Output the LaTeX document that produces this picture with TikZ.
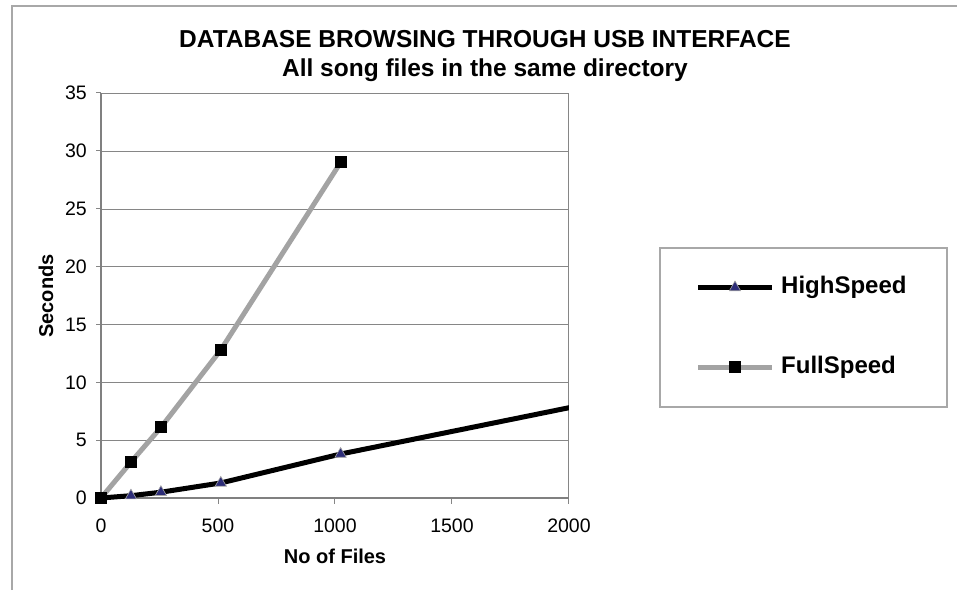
\documentclass[tikz,border=0pt]{standalone}
\usepackage{fontspec}
\setmainfont{Liberation Sans}
\usetikzlibrary{positioning, shapes.geometric}
\definecolor{fsgray}{RGB}{163,163,163}
\definecolor{gridgray}{RGB}{134,134,134}
\definecolor{framegray}{RGB}{168,168,168}
\definecolor{trifill}{RGB}{45,45,120}

\begin{document}
\begin{tikzpicture}[x=1pt, y=1pt, every node/.style={inner sep=0pt},
    titletext/.style={font=\fontsize{24.5}{29}\selectfont\bfseries},
    ticktext/.style={font=\fontsize{19.5}{22}\selectfont},
    axistext/.style={font=\fontsize{20}{22}\selectfont\bfseries},
    keytext/.style={font=\fontsize{24}{26}\selectfont\bfseries},
    hsline/.style={line width=5pt, black, line join=round},
    fsline/.style={line width=5pt, fsgray, line join=round},
    sqmark/.style={rectangle, fill=black, minimum size=12pt},
    trimark/.style={regular polygon, regular polygon sides=3, minimum size=13pt, fill=trifill, draw=gray!70, line width=0.6pt}]
    \useasboundingbox (0,0) rectangle (957,590);
    % chart frame, cut off right and bottom
    \draw[framegray, line width=1.5pt] (12,0) -- (12,584) -- (957,584);
    \node[titletext, anchor=base] (title1) at (485,542) {DATABASE BROWSING THROUGH USB INTERFACE};
    \node[titletext, anchor=base] (title2) at (485,513) {All song files in the same directory};

    % plot area
    \begin{scope}[shift={(101,92)}, x=0.234pt, y=11.5714pt]
      \foreach \v in {5,10,...,35} \draw[gridgray] (0,\v) -- (2000,\v);
      \draw[gridgray, line width=1pt] (2000,0) -- (2000,35);
      \foreach \v in {0,5,...,35} {
        \draw[gridgray, line width=1pt] (-21,\v) -- (0,\v);
        \node[ticktext, anchor=east] (y\v) at (-60,\v) {\v};
      }
      \foreach \v in {0,500,...,2000} {
        \draw[gridgray, line width=1pt] (\v,0) -- (\v,-0.52);
        \node[ticktext] (x\v) at (\v,-2.38) {\v};
      }
      \draw[gray, line width=1.3pt] (0,35) -- (0,0) -- (2000,0);

      \foreach \n/\x/\y in {0/0/0, 1/128/0.2, 2/256/0.5, 3/512/1.3, 4/1024/3.8, 5/2048/8.0}
        \coordinate (h\n) at (\x,\y);
      \foreach \n/\x/\y in {0/0/0, 1/128/3.1, 2/256/6.1, 3/512/12.8, 4/1024/29.0}
        \coordinate (f\n) at (\x,\y);
      \begin{scope}
        \clip (-50,-1) rectangle (2000,36);
        \draw[hsline] (h0) -- (h1) -- (h2) -- (h3) -- (h4) -- (h5);
      \end{scope}
      \draw[fsline] (f0) -- (f1) -- (f2) -- (f3) -- (f4);
      \foreach \n in {1,...,4} \node[trimark] (hm\n) at (h\n) {};
      \foreach \n in {0,...,4} \node[sqmark] (fm\n) at (f\n) {};
    \end{scope}

    % axis titles
    \node[axistext, rotate=90] (ylabel) at (46,294) {Seconds};
    \node[axistext] (xlabel) at (335,34) {No of Files};

    % legend
    \node[draw=framegray, line width=1.2pt, minimum width=287pt, minimum height=159pt] (legend) at (803.5,262.5) {};
    \coordinate (hsA) at (698,302.5);
    \coordinate (hsB) at (772,302.5);
    \draw[hsline] (hsA) -- (hsB);
    \node[trimark] (hskey) at (735,302.5) {};
    \node[keytext, right=9pt of hsB] (hslabel) {HighSpeed};
    \coordinate (fsA) at (698,223);
    \coordinate (fsB) at (772,223);
    \draw[fsline] (fsA) -- (fsB);
    \node[sqmark] (fskey) at (735,223) {};
    \node[keytext, right=9pt of fsB] (fslabel) {FullSpeed};
\end{tikzpicture}
\end{document}
